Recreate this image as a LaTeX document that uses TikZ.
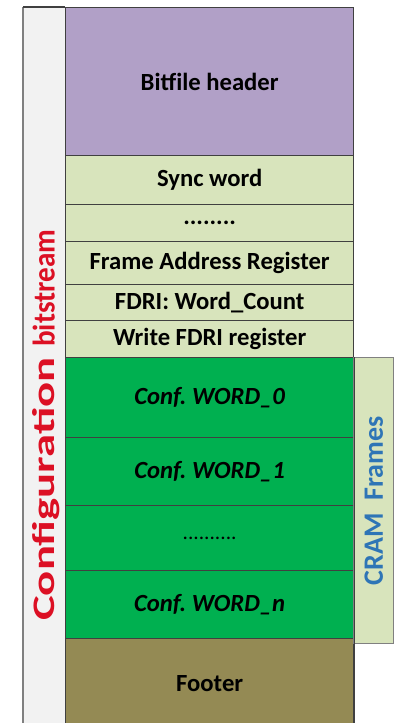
\documentclass[tikz,border=0pt]{standalone}
\usepackage{fontspec}
\usepackage{graphicx}
\setmainfont{Carlito}
\definecolor{hdrpurple}{RGB}{177,160,199}
\definecolor{cmdgreen}{RGB}{216,228,188}
\definecolor{wordgreen}{RGB}{0,176,80}
\definecolor{footbrown}{RGB}{148,138,84}
\definecolor{stripgray}{RGB}{242,242,242}
\definecolor{edgegray}{RGB}{64,64,64}
\definecolor{labelred}{RGB}{220,16,36}
\definecolor{labelblue}{RGB}{46,117,182}
\begin{document}
\begin{tikzpicture}[x=0.75pt,y=-0.75pt,
  row/.style={draw=edgegray,line width=1pt,minimum width=216pt,
    minimum height=#1*0.75pt,inner sep=0pt,font=\fontsize{18.5}{22}\selectfont\bfseries,
    anchor=north west},
  word/.style={row=#1,font=\fontsize{18.5}{22}\selectfont\bfseries\itshape},
  vlabel/.style={rotate=90,font=\fontsize{21}{24}\selectfont\bfseries}]
\useasboundingbox (0,0) rectangle (397,723);
% side strip carrying the bitstream label
\fill[stripgray] (23,7) rectangle (65,726);
\draw[gray,line width=1.5pt] (23,7) -- (23,726);
% main column of the bitstream
\node[row=148,fill=hdrpurple] (hdr) at (65,7) {Bitfile header};
\node[row=49,fill=cmdgreen] (sync) at (65,155) {Sync word};
\node[row=37,fill=cmdgreen] (dots1) at (65,204) {........};
\node[row=43,fill=cmdgreen] (far) at (65,241) {Frame Address Register};
\node[row=36,fill=cmdgreen] (fdri) at (65,284) {FDRI: Word\_Count};
\node[row=37,fill=cmdgreen] (wfdri) at (65,320) {Write FDRI register};
\node[word=80,fill=wordgreen] (w0) at (65,357) {Conf.\ WORD\_0};
\node[word=68,fill=wordgreen] (w1) at (65,437) {Conf.\ WORD\_1};
\node[row=65,fill=wordgreen,font=\fontsize{16}{18}\selectfont] (dots2) at (65,505) {..........};
\node[word=68,fill=wordgreen] (wn) at (65,570) {Conf.\ WORD\_n};
\node[row=90,fill=footbrown] (foot) at (65,638) {Footer};
\draw[edgegray,line width=1pt] (hdr.north west) -- (23,7);
% frame bracket beside the configuration words
\node[anchor=north west,minimum width=30pt,minimum height=214.5pt,inner sep=0pt,
  fill=cmdgreen,draw=gray,line width=1pt] (cram) at (353,357) {};
\node[vlabel,text=labelblue] (cramlbl) at (cram.center) {CRAM~~Frames};
\node[vlabel,font=\fontsize{23.5}{27}\selectfont\bfseries,text=labelred,
  anchor=base west,inner xsep=0pt] (cfglbl) at (54.5,621)
  {\scalebox{1.49}[1]{Configuration}\hspace{8pt}\scalebox{0.93}[1]{bitstream}};
\draw[edgegray,line width=1pt] (w0.north east) -- (w0.north east |- foot.south);
\end{tikzpicture}
\end{document}
